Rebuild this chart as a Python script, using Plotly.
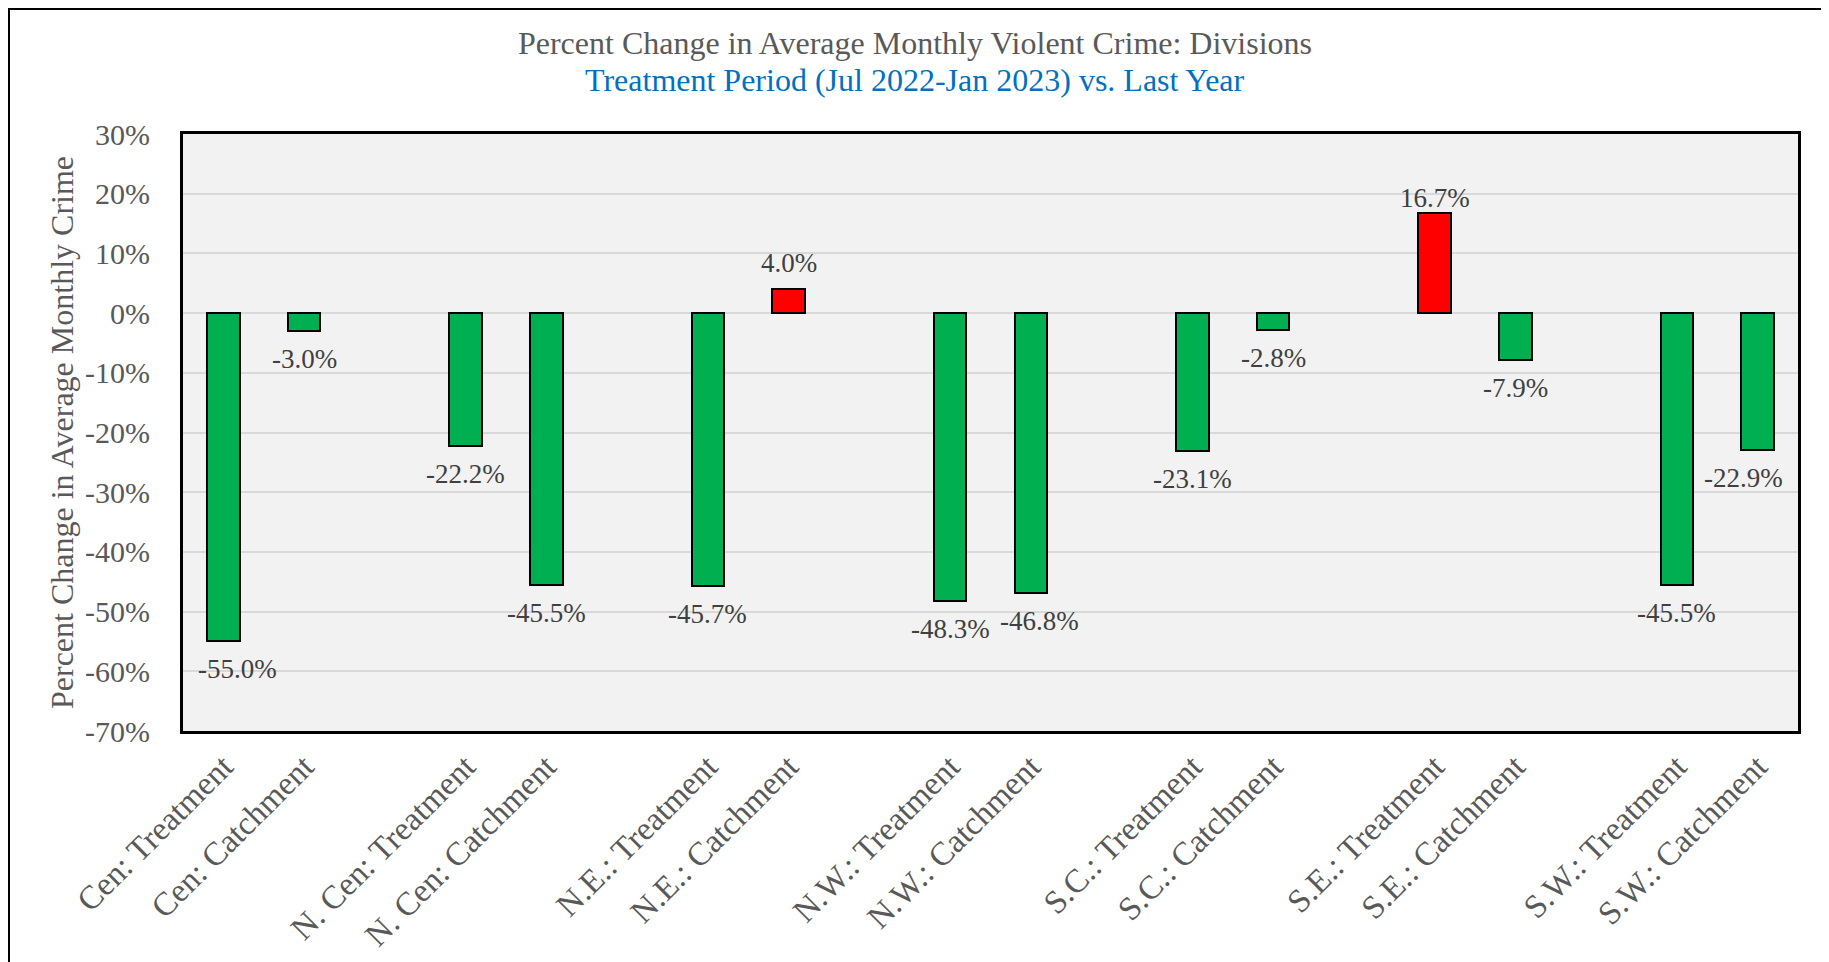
import plotly.graph_objects as go

divisions = ["Cen", "N. Cen", "N.E.", "N.W.", "S.C.", "S.E.", "S.W."]
series_names = ["Treatment", "Catchment"]
treatment_pct = [-55.0, -22.2, -45.7, -48.3, -23.1, 16.7, -45.5]
catchment_pct = [-3.0, -45.5, 4.0, -46.8, -2.8, -7.9, -22.9]
y_ticks_pct = [30, 20, 10, 0, -10, -20, -30, -40, -50, -60, -70]

# small manual nudges of individual data labels (pixels), as in the original
label_nudge = {
    "Cen: Treatment": (14, 0),
    "N.W.: Catchment": (9, 0),
    "S.W.: Catchment": (-14, 0),
    "N.E.: Catchment": (0, 6),
    "S.E.: Treatment": (0, -5),
}

W, H = 1829, 962
ML, MR, MT, MB = 175, 39, 126, 239

FONT = "Liberation Serif"
GREEN = "#00B050"
RED = "#FF0000"

xs, ys, labels, texts = [], [], [], []
for gi, g in enumerate(divisions):
    for si, (sname, vals) in enumerate(zip(series_names, [treatment_pct, catchment_pct])):
        xs.append(gi * 3 + si)
        ys.append(vals[gi] / 100.0)
        labels.append(f"{g}: {sname}")
        texts.append(f"{vals[gi]:.1f}%")

colors = [RED if v > 0 else GREEN for v in ys]

fig = go.Figure(
    go.Bar(
        x=xs,
        y=ys,
        width=0.4,
        marker=dict(color=colors, line=dict(color="black", width=2)),
        cliponaxis=False,
        showlegend=False,
        hovertext=texts,
    )
)

for x, y, lab, t in zip(xs, ys, labels, texts):
    dx, dy = label_nudge.get(lab, (0, 0))
    fig.add_annotation(
        x=x, y=y, xref="x", yref="y",
        text=t, showarrow=False,
        yanchor="middle", xanchor="center",
        yshift=(20 if y > 0 else -28) + dy,
        xshift=dx,
        font=dict(family=FONT, size=27, color="#404040"),
    )

fig.update_layout(
    width=W,
    height=H,
    autosize=False,
    margin=dict(l=ML, r=MR, t=MT, b=MB, autoexpand=False),
    paper_bgcolor="white",
    plot_bgcolor="#F2F2F2",
    font=dict(family=FONT, color="#595959"),
    title=dict(
        text="Percent Change in Average Monthly Violent Crime: Divisions",
        x=(915 - 8) / W,
        xanchor="center",
        xref="container",
        y=1 - (43 - 8) / H,
        yanchor="middle",
        yref="container",
        font=dict(family=FONT, size=32, color="#595959"),
    ),
    bargap=0,
)

fig.add_annotation(
    text="Treatment Period (Jul 2022-Jan 2023) vs. Last Year",
    xref="paper", yref="paper",
    x=((915 - 8) - ML) / (W - ML - MR),
    y=1 + (MT - (80 - 8)) / (H - MT - MB),
    xanchor="center", yanchor="middle",
    showarrow=False,
    font=dict(family=FONT, size=32, color="#0070C0"),
)

fig.update_xaxes(
    range=[-0.5, 19.5],
    tickmode="array",
    tickvals=xs,
    ticktext=labels,
    tickangle=-45,
    tickfont=dict(family=FONT, size=33, color="#595959"),
    showgrid=False,
    zeroline=False,
    showline=True,
    linecolor="black",
    linewidth=3,
    mirror=True,
    ticks="",
    ticklabelstandoff=0,
)

fig.update_yaxes(
    range=[-0.7, 0.3],
    tickmode="array",
    tickvals=[v / 100.0 for v in y_ticks_pct],
    ticktext=[f"{v}%" for v in y_ticks_pct],
    tickfont=dict(family=FONT, size=30, color="#595959"),
    showgrid=True,
    gridcolor="#D9D9D9",
    gridwidth=2,
    zeroline=False,
    showline=True,
    linecolor="black",
    linewidth=3,
    mirror=True,
    ticks="",
    ticklabelstandoff=24,
    title=dict(
        text="Percent Change in Average Monthly Crime",
        font=dict(family=FONT, size=32, color="#595959"),
        standoff=2,
    ),
)

# outer chart frame
PW = W - ML - MR
PH = H - MT - MB
def px_x(p):
    return (p - ML) / PW
def px_y(p):
    return 1 - (p - MT) / PH

fig.add_shape(
    type="rect",
    xref="paper", yref="paper",
    x0=px_x(1), x1=px_x(1819), y0=px_y(1000), y1=px_y(1),
    line=dict(color="black", width=2),
    fillcolor="rgba(0,0,0,0)",
    layer="above",
)

fig.write_html("out.html")
